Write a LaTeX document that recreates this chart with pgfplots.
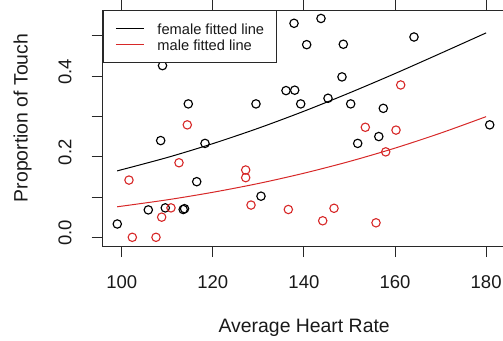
\documentclass[border=0pt]{standalone}
\usepackage{pgfplots}
\pgfplotsset{compat=1.18}
\usepackage{fontspec}
\setmainfont{Liberation Sans}
\definecolor{rred}{RGB}{215,40,40}
\definecolor{axgray}{RGB}{40,40,40}

\begin{document}
\begin{tikzpicture}
\begin{axis}[
  name=ax,
  scale only axis,
  width=403bp, height=236bp,
  xmin=95.83, xmax=184.3,
  ymin=-0.0216, ymax=0.564,
  axis line style={axgray, line width=0.9bp},
  tick style={axgray, line width=0.9bp},
  tick align=outside,
  major tick length=11bp,
  xtick={100,120,140,160,180},
  xticklabels={100,120,140,160,180},
  ytick={0,0.1,0.2,0.3,0.4,0.5},
  yticklabels={0.0,,0.2,,0.4,},
  ticklabel style={font=\fontsize{18.5bp}{22bp}\selectfont, inner sep=0pt, text=black!90},
  xticklabel style={anchor=north},
  yticklabel style={rotate=90, anchor=south, xshift=4.5bp},
  xticklabel shift=18.4bp,
  yticklabel shift=20bp,
  xlabel={Average Heart Rate},
  ylabel={Proportion of Touch},
  xlabel style={at={(axis description cs:0.5,-0.3665)}, anchor=base, inner sep=0pt, font=\fontsize{19.4bp}{23bp}\selectfont, text=black!90},
  ylabel style={at={(axis description cs:-0.1864,0.5424)}, anchor=base, rotate=0, inner sep=0pt, font=\fontsize{19.4bp}{23bp}\selectfont, text=black!90},
  legend style={at={(0,1)}, anchor=north west, draw=axgray, line width=0.9bp, fill=white,
    inner xsep=12.3bp, inner ysep=9.3bp, row sep=0pt, column sep=13.3bp,
    font=\fontsize{14.65bp}{16.7bp}\selectfont,
    nodes={inner sep=0pt, text height=14.3bp, text depth=2.4bp, text=black!90}},
  legend cell align=left,
  legend image code/.code={\draw[#1, line width=1bp] (0bp,0bp) -- (27.7bp,0bp);},
]
% female points
\addplot[only marks, mark=o, mark size=4.2bp, mark options={line width=1.15bp, draw=black}, forget plot] coordinates {
(99.03,0.033) (105.84,0.068) (109.57,0.073) (113.5,0.069) (113.8,0.071)
(108.56,0.240) (118.29,0.233) (116.47,0.138) (108.96,0.426) (114.62,0.331)
(130.58,0.102) (151.81,0.233) (129.48,0.331) (136.07,0.364) (137.98,0.365)
(139.30,0.331) (145.29,0.345) (150.27,0.331) (148.36,0.398) (137.83,0.531)
(143.75,0.543) (140.61,0.478) (148.65,0.479) (164.17,0.497) (157.43,0.320)
(156.44,0.250) (180.79,0.279)
};
% male points
\addplot[only marks, mark=o, mark size=4.2bp, mark options={line width=1.1bp, draw=rred}, forget plot] coordinates {
(101.60,0.142) (102.33,0.0) (107.53,0.0) (108.78,0.050) (110.82,0.073)
(112.58,0.185) (114.40,0.279) (127.22,0.167) (127.22,0.148) (128.39,0.080)
(136.58,0.069) (144.13,0.041) (146.61,0.072) (153.48,0.273) (155.83,0.036)
(157.96,0.212) (160.22,0.266) (161.25,0.378)
};
% fitted lines
\addplot[black, line width=1bp, smooth, no marks] coordinates {
(99,0.1648) (110,0.1980) (120,0.2324) (130,0.2707) (140,0.3128) (150,0.3583) (160,0.4063) (170,0.4564) (180,0.5072)
};
\addlegendentry{female fitted line}
\addplot[rred, line width=1bp, smooth, no marks] coordinates {
(99,0.0757) (110,0.0930) (120,0.1117) (130,0.1335) (140,0.1590) (150,0.1882) (160,0.2213) (170,0.2585) (180,0.2994)
};
\addlegendentry{male fitted line}
\end{axis}
\pgfresetboundingbox
\path[use as bounding box] ([shift={(-102.7bp,-95bp)}]ax.south west) rectangle ([shift={(400.3bp,246bp)}]ax.south west);
\end{tikzpicture}
\end{document}
